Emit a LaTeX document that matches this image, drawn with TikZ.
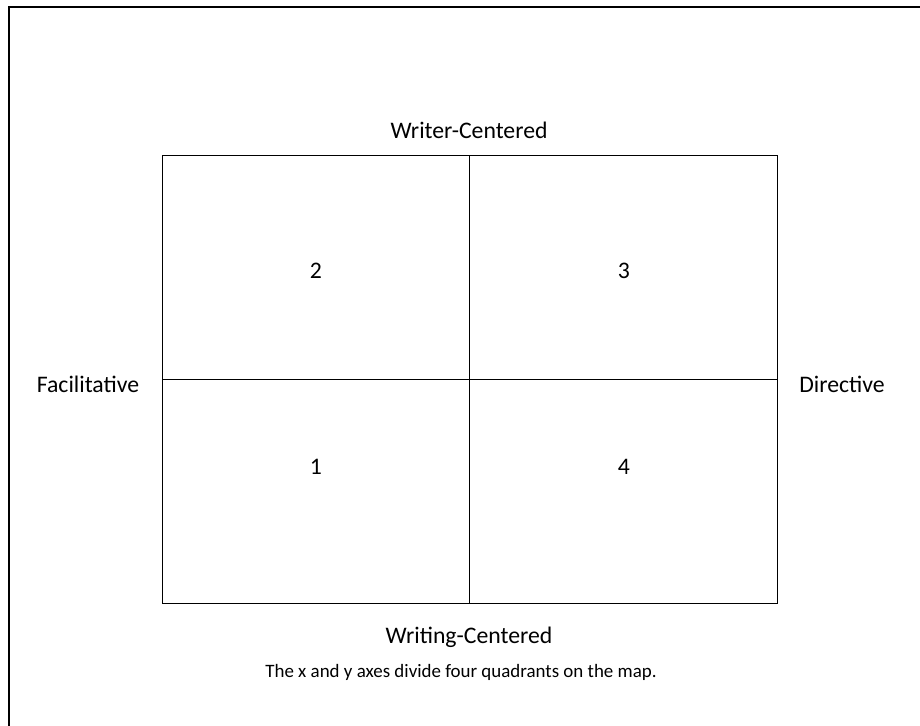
\documentclass[tikz,border=0pt]{standalone}
\usepackage{fontspec}
\setmainfont{Carlito}
\begin{document}
\begin{tikzpicture}[x=0.75pt,y=-0.75pt,
  lbl/.style={font=\fontsize{17.8}{21}\selectfont, inner sep=0pt},
  captext/.style={font=\fontsize{14.2}{17}\selectfont, inner sep=0pt},
  frame/.style={line width=1.5pt},
  grid/.style={line width=0.7pt}]
\useasboundingbox (0,0) rectangle (920,725);
% outer frame (cropped at right and bottom)
\draw[frame] (8.5,740) -- (8.5,6.5) -- (940,6.5);
% quadrant box
\coordinate (tl) at (162,155);
\coordinate (br) at (777,603);
\coordinate (tm) at (469,155);
\coordinate (bm) at (469,603);
\coordinate (lm) at (162,379);
\coordinate (rm) at (777,379);
\draw[grid] (tl) rectangle (br);
\draw[grid] (tm) -- (bm);
\draw[grid] (lm) -- (rm);
% labels
\node[lbl] (top) at (469,130) {Writer-Centered};
\node[lbl] (left) at (88,384) {Facilitative};
\node[lbl] (right) at (842,384) {Directive};
\node[lbl] (bottom) at (469,637) {Writing-Centered};
\node[lbl] (q2) at (316,271) {2};
\node[lbl] (q3) at (624,271) {3};
\node[lbl] (q1) at (316,467) {1};
\node[lbl] (q4) at (624,467) {4};
\node[captext] (caption) at (461,672) {The x and y axes divide four quadrants on the map.};
\end{tikzpicture}
\end{document}
